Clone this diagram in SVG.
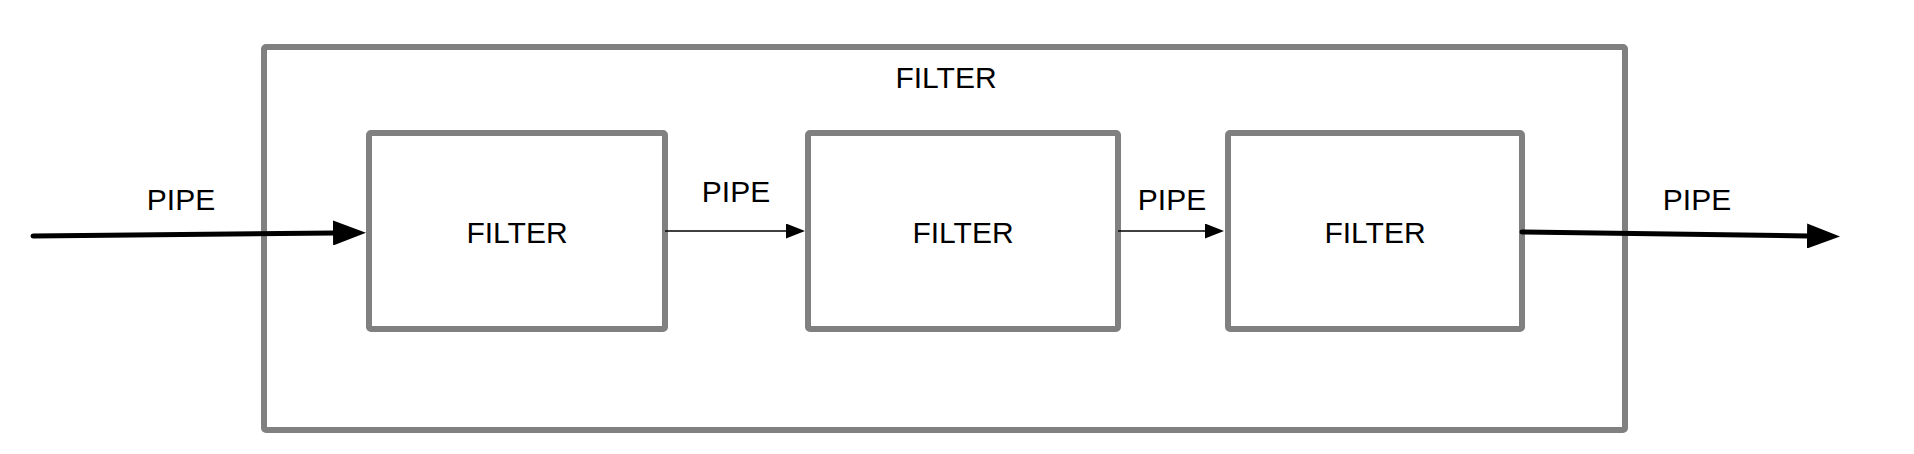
<svg xmlns="http://www.w3.org/2000/svg" width="1914" height="454" viewBox="0 0 1914 454">
  <style>
    .box { fill: none; stroke: #808080; stroke-width: 6; }
    .lbl { font-family: "Liberation Sans", Arial, sans-serif; font-size: 30px; fill: #000; text-anchor: middle; }
    .thick { fill: none; stroke: #000; stroke-width: 5; stroke-linecap: round; }
    .thin { fill: none; stroke: #000; stroke-width: 1.5; }
  </style>
  <defs>
    <marker id="arrowThick" markerUnits="userSpaceOnUse" viewBox="0 0 33 25" markerWidth="33" markerHeight="25" refX="1" refY="12.5" orient="auto">
      <path d="M0,0 L33,12.5 L0,25 z" fill="#000"/>
    </marker>
    <marker id="arrowThin" markerUnits="userSpaceOnUse" viewBox="0 0 19 15" markerWidth="19" markerHeight="15" refX="1" refY="7.5" orient="auto">
      <path d="M0,0 L19,7.5 L0,15 z" fill="#000"/>
    </marker>
  </defs>
  <rect width="1914" height="454" fill="#fff"/>

  <g id="outer-filter">
    <rect class="box" x="264" y="47" width="1361" height="383" rx="2"/>
    <text class="lbl" x="946" y="88">FILTER</text>
  </g>

  <g id="filter-1">
    <rect class="box" x="369" y="133" width="296" height="196" rx="2"/>
    <text class="lbl" x="517" y="243">FILTER</text>
  </g>

  <g id="filter-2">
    <rect class="box" x="808" y="133" width="310" height="196" rx="2"/>
    <text class="lbl" x="963" y="243">FILTER</text>
  </g>

  <g id="filter-3">
    <rect class="box" x="1228" y="133" width="294" height="196" rx="2"/>
    <text class="lbl" x="1375" y="243">FILTER</text>
  </g>

  <g id="connectors">
    <path class="thick" d="M33,236 L334,233" marker-end="url(#arrowThick)"/>
    <path class="thin" d="M665,231 L787,231" marker-end="url(#arrowThin)"/>
    <path class="thin" d="M1118,231 L1206,231" marker-end="url(#arrowThin)"/>
    <path class="thick" d="M1522,232 L1808,236" marker-end="url(#arrowThick)"/>
    <text class="lbl" x="181" y="210">PIPE</text>
    <text class="lbl" x="736" y="202">PIPE</text>
    <text class="lbl" x="1172" y="210">PIPE</text>
    <text class="lbl" x="1697" y="210">PIPE</text>
  </g>
</svg>
